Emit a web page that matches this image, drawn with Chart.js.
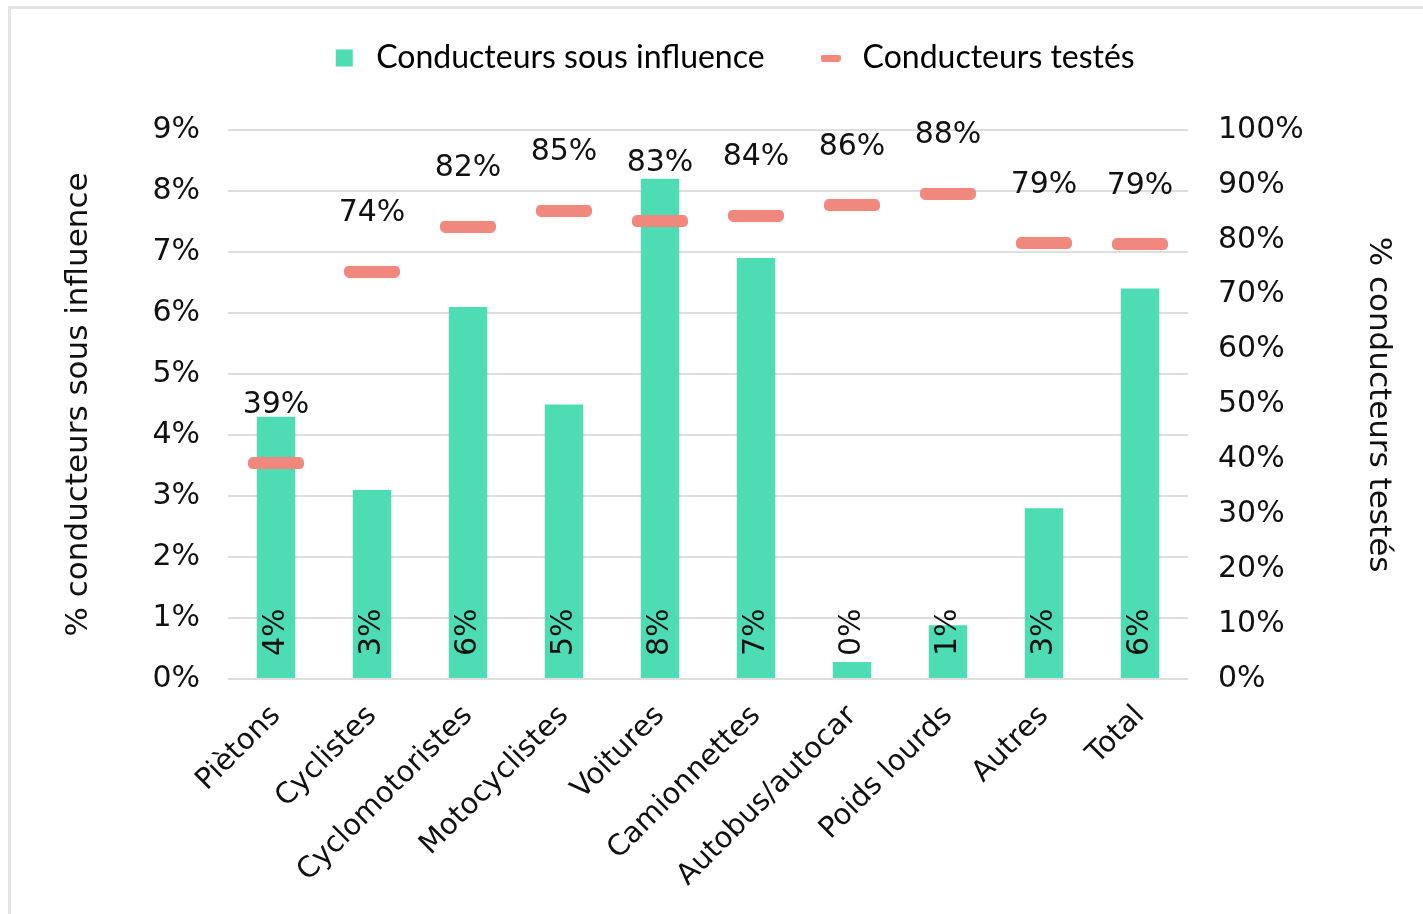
<!DOCTYPE html>
<html>
<head>
<meta charset="utf-8">
<script src="https://cdn.jsdelivr.net/npm/chart.js@4"></script>
<style>
  body { margin: 0; background: #fff; overflow: hidden; }
  #frame { position: absolute; left: 8px; top: 6px; width: 1440px; height: 940px; border: 3px solid #e4e4e4; box-sizing: border-box; }
  #wrap { position: absolute; left: 0; top: 0; width: 1423px; height: 914px; }
</style>
</head>
<body>
<div id="frame"></div>
<div id="wrap"><canvas id="chart" width="1423" height="914"></canvas></div>
<script>
const categories = ['Piètons', 'Cyclistes', 'Cyclomotoristes', 'Motocyclistes', 'Voitures', 'Camionnettes', 'Autobus/autocar', 'Poids lourds', 'Autres', 'Total'];
const sousInfluence = [4.3, 3.1, 6.1, 4.5, 8.2, 6.9, 0.28, 0.88, 2.8, 6.4];
const testes = [39.3, 74.2, 82.4, 85.3, 83.4, 84.4, 86.3, 88.4, 79.4, 79.2];
const leftTicks = [0, 1, 2, 3, 4, 5, 6, 7, 8, 9];
const rightTicks = [0, 10, 20, 30, 40, 50, 60, 70, 80, 90, 100];

const teal = '#4edcb4';
const salmon = '#f0887d';
const font = 'DejaVu Sans';

// rounded dash used as point marker
function dash(w, h) {
    const c = document.createElement('canvas');
    c.width = w; c.height = h;
    const g = c.getContext('2d');
    g.fillStyle = salmon;
    g.beginPath();
    g.roundRect(0, 0, w, h, h / 2.5);
    g.fill();
    return c;
}
const marker = dash(56, 12);
const legendDash = dash(20, 7);

// give the legend more room below it and nudge it into place
const legendSpacing = {
    id: 'legendSpacing',
    afterInit(chart) {
        const lg = chart.legend;
        const fit = lg.fit.bind(lg);
        lg.fit = function () { fit(); this.height += 38; };
    },
    afterLayout(chart) {
        const lg = chart.legend;
        lg.top -= 8; lg.bottom -= 8;
        lg.left += 20; lg.right += 20;
    }
};

const labelsPlugin = {
    id: 'labels',
    afterDatasetsDraw(chart) {
        const ctx = chart.ctx;
        ctx.save();
        ctx.fillStyle = '#111';
        ctx.font = '30px "' + font + '"';
        // values above the tested markers
        chart.getDatasetMeta(1).data.forEach((pt, i) => {
            ctx.textAlign = 'center';
            ctx.textBaseline = 'middle';
            ctx.fillText(Math.round(testes[i]) + '%', pt.x, pt.y - 58);
        });
        // rotated values at the foot of each bar
        chart.getDatasetMeta(0).data.forEach((bar, i) => {
            ctx.save();
            ctx.translate(bar.x, bar.base - 22);
            ctx.rotate(-Math.PI / 2);
            ctx.textAlign = 'left';
            ctx.textBaseline = 'middle';
            ctx.fillText(Math.round(sousInfluence[i]) + '%', 0, 0);
            ctx.restore();
        });
        ctx.restore();
    }
};

new Chart(document.querySelector('#chart').getContext('2d'), {
    data: {
        labels: categories,
        datasets: [
            {
                type: 'bar',
                label: 'Conducteurs sous influence',
                data: sousInfluence,
                backgroundColor: teal,
                yAxisID: 'y',
                categoryPercentage: 1,
                barPercentage: 0.4,
                order: 2
            },
            {
                type: 'line',
                label: 'Conducteurs testés',
                data: testes,
                yAxisID: 'y2',
                showLine: false,
                pointStyle: marker,
                pointRadius: 28,
                backgroundColor: salmon,
                borderColor: salmon,
                order: 1
            }
        ]
    },
    options: {
        responsive: false,
        animation: false,
        layout: { padding: { top: 0, left: 0, right: 0, bottom: 0 } },
        plugins: {
            tooltip: { enabled: false },
            legend: {
                position: 'top',
                labels: {
                    color: '#111',
                    font: { family: 'Lato', size: 32 },
                    usePointStyle: true,
                    boxHeight: 17,
                    padding: 50,
                    generateLabels: () => [
                        { text: 'Conducteurs sous influence', fillStyle: teal, strokeStyle: teal, lineWidth: 0, pointStyle: 'rect', datasetIndex: 0 },
                        { text: 'Conducteurs testés', fillStyle: salmon, strokeStyle: salmon, lineWidth: 0, pointStyle: legendDash, datasetIndex: 1 }
                    ]
                }
            }
        },
        scales: {
            x: {
                grid: { display: false },
                border: { display: false },
                ticks: {
                    color: '#111',
                    font: { family: font, size: 29 },
                    maxRotation: 45,
                    minRotation: 45,
                    padding: 12
                },
                afterFit: s => { s.height = 235; }
            },
            y: {
                position: 'left',
                min: 0,
                max: 9,
                afterBuildTicks: s => { s.ticks = leftTicks.map(v => ({ value: v })); },
                grid: { color: '#dedede', lineWidth: 2, drawTicks: false },
                border: { display: false },
                ticks: {
                    color: '#111',
                    font: { family: font, size: 30 },
                    padding: 28,
                    callback: v => v + '%'
                },
                title: {
                    display: true,
                    text: '% conducteurs sous influence',
                    color: '#111',
                    font: { family: font, size: 31 },
                    padding: { top: 60, bottom: 0 }
                },
                afterFit: s => { s.width = 228; }
            },
            y2: {
                position: 'right',
                min: 0,
                max: 100,
                afterBuildTicks: s => { s.ticks = rightTicks.map(v => ({ value: v })); },
                grid: { display: false, drawTicks: false },
                border: { display: false },
                ticks: {
                    color: '#111',
                    font: { family: font, size: 30 },
                    padding: 30,
                    callback: v => v + '%'
                },
                title: {
                    display: true,
                    text: '% conducteurs testés',
                    color: '#111',
                    font: { family: font, size: 31 },
                    padding: { top: 26, bottom: 0 }
                },
                afterFit: s => { s.width = 235; }
            }
        }
    },
    plugins: [legendSpacing, labelsPlugin]
});
</script>
</body>
</html>
